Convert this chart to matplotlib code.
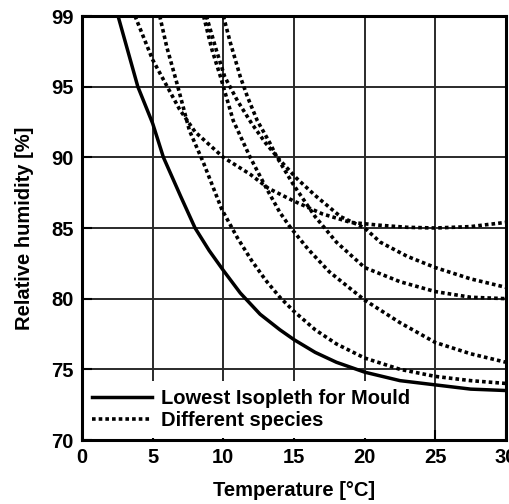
import matplotlib
matplotlib.use("Agg")
import matplotlib.pyplot as plt

plt.rcParams['font.family'] = ['Liberation Sans', 'DejaVu Sans']
plt.rcParams['font.weight'] = 'bold'

# Lowest isopleth for mould (solid)
iso_x = [2.55, 3.95, 5.0, 5.76, 7.0, 8.0, 9.0, 10.0, 11.2, 12.6, 14.0, 15.0, 16.5, 18.0, 20.0, 22.5, 25.0, 27.5, 30.0]
iso_y = [100, 95.0, 92.4, 90.0, 87.2, 85.0, 83.4, 82.0, 80.4, 78.9, 77.8, 77.1, 76.2, 75.5, 74.8, 74.2, 73.9, 73.6, 73.5]

# Different species (dotted)
spA_x = [3.75, 5.0, 6.9, 8.0, 10.0, 11.9, 13.2, 15.0, 17.0, 19.0, 21.0, 23.0, 25.0, 27.5, 30.0]
spA_y = [100, 96.9, 93.4, 91.8, 90.0, 88.8, 87.8, 86.9, 86.0, 85.4, 85.2, 85.05, 85.0, 85.1, 85.4]

spB_x = [5.5, 6.0, 6.7, 7.6, 8.6, 9.9, 11.0, 12.0, 13.0, 14.0, 15.0, 16.5, 18.0, 20.0, 22.5, 25.0, 27.5, 30.0]
spB_y = [100, 97.8, 95.3, 91.9, 89.6, 86.3, 84.3, 82.7, 81.3, 80.1, 79.1, 77.8, 76.8, 75.8, 75.0, 74.5, 74.2, 74.0]

spC_x = [8.6, 9.2, 9.8, 10.7, 11.9, 13.0, 14.0, 14.7, 16.0, 17.5, 20.0, 22.5, 25.0, 27.5, 30.0]
spC_y = [100, 97.6, 95.7, 92.6, 90.0, 87.9, 86.1, 85.1, 83.5, 81.9, 79.9, 78.3, 76.9, 76.1, 75.5]

spD_x = [8.8, 9.5, 10.1, 11.0, 12.0, 13.0, 14.0, 15.2, 16.5, 18.3, 20.0, 21.1, 23.0, 25.0, 27.5, 30.0]
spD_y = [100, 97.6, 95.7, 94.0, 92.4, 91.0, 89.8, 88.5, 87.3, 85.8, 85.0, 84.0, 83.0, 82.2, 81.4, 80.8]

spE_x = [10.0, 10.5, 11.2, 11.7, 12.4, 13.3, 13.8, 15.0, 16.5, 18.0, 20.0, 22.5, 25.0, 27.5, 30.0]
spE_y = [100, 98.1, 95.7, 94.3, 92.6, 91.0, 90.0, 88.0, 85.8, 84.0, 82.2, 81.2, 80.5, 80.1, 80.0]

x_ticks = [0, 5, 10, 15, 20, 25, 30]
y_ticks = [70, 75, 80, 85, 90, 95, 100]
y_tick_labels = ['70', '75', '80', '85', '90', '95', '99']

FS = 14.5

fig = plt.figure(figsize=(5.09, 5.04), dpi=100)
ax = fig.add_axes([82/509, 64/504, 424/509, 424/504])

for xv in x_ticks[1:-1]:
    ax.axvline(xv, color='#2a2a2a', lw=1.4, zorder=1)
for yv in y_ticks[1:-1]:
    ax.axhline(yv, color='#2a2a2a', lw=1.4, zorder=1)

dot = (0, (1.0, 0.85))
species = [(spA_x, spA_y), (spB_x, spB_y), (spC_x, spC_y), (spD_x, spD_y), (spE_x, spE_y)]
for i, (sx, sy) in enumerate(species):
    ax.plot(sx, sy, color='black', lw=2.6, linestyle=dot, zorder=4,
            label='Different species' if i == 0 else None)
ax.plot(iso_x, iso_y, color='black', lw=2.5, zorder=4, label='Lowest Isopleth for Mould')

ax.set_xlim(0, 30)
ax.set_ylim(70, 100)
ax.set_xticks(x_ticks)
ax.set_yticks(y_ticks)
ax.set_yticklabels(y_tick_labels)
ax.tick_params(direction='in', length=7, width=1.5, labelsize=FS, pad=6)
for lab in ax.get_xticklabels() + ax.get_yticklabels():
    lab.set_fontweight('bold')
for s in ax.spines.values():
    s.set_linewidth(2.2)
    s.set_zorder(5)

h, l = ax.get_legend_handles_labels()
leg = ax.legend(h[::-1], l[::-1], loc='lower left', frameon=True,
                handlelength=3.0, handletextpad=0.4, borderaxespad=0.1,
                labelspacing=0.15, prop={'weight': 'bold', 'size': FS})
leg.set_zorder(3)
leg.get_frame().set_facecolor('white')
leg.get_frame().set_alpha(1)
leg.get_frame().set_linewidth(0)

ax.set_xlabel('Temperature [°C]', fontsize=FS, fontweight='bold', labelpad=10)
ax.set_ylabel('Relative humidity [%]', fontsize=FS, fontweight='bold', labelpad=12)

fig.savefig('out.png', dpi=100)
